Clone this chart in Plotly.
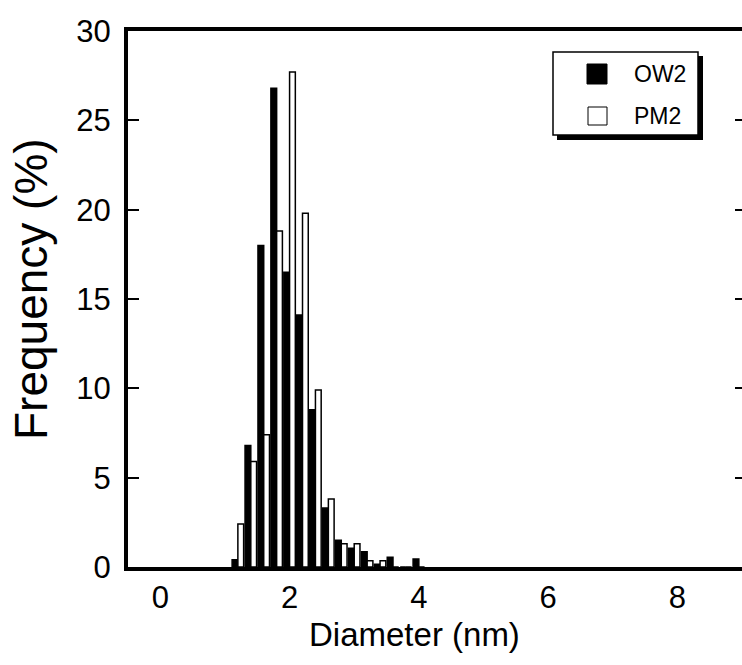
import plotly.graph_objects as go

# ---- data ----
diameter_nm = [1.2, 1.4, 1.6, 1.8, 2.0, 2.2, 2.4, 2.6, 2.8, 3.0, 3.2, 3.4, 3.6, 3.8, 4.0]
ow2_freq = [0.4, 6.8, 18.0, 26.8, 16.5, 14.1, 8.8, 3.3, 1.5, 1.05, 0.85, 0.15, 0.55, 0.0, 0.45]
pm2_freq = [2.4, 5.9, 7.4, 18.8, 27.7, 19.8, 9.9, 3.8, 1.3, 1.3, 0.35, 0.35, 0.0, 0.0, 0.0]
series_names = ["OW2", "PM2"]
x_ticks = [0, 2, 4, 6, 8]
y_ticks = [0, 5, 10, 15, 20, 25, 30]

FONT = "Liberation Sans, Arial, Helvetica, sans-serif"
W, H = 742, 665
L, R, T, B = 128, 0, 31, 98
PW, PH = W - L - R, H - T - B


def px_x(px):
    return (px - L) / PW


def px_y(py):
    return (H - B - py) / PH


fig = go.Figure()
fig.add_trace(go.Bar(x=diameter_nm, y=ow2_freq, name=series_names[0],
                     marker=dict(color="black", line=dict(color="black", width=1.5)),
                     showlegend=False))
fig.add_trace(go.Bar(x=diameter_nm, y=pm2_freq, name=series_names[1],
                     marker=dict(color="white", line=dict(color="black", width=1.5)),
                     showlegend=False))
# empty trace to carry the right-side tick axis
fig.add_trace(go.Scatter(x=[None], y=[None], yaxis="y2", showlegend=False,
                         hoverinfo="skip"))

fig.update_layout(
    width=W, height=H,
    margin=dict(l=L, r=R, t=T, b=B),
    paper_bgcolor="white", plot_bgcolor="white",
    barmode="group", bargap=0.11, bargroupgap=0.0,
    font=dict(family=FONT, color="black"),
    xaxis=dict(range=[-0.5, 9.0], tickvals=x_ticks, ticktext=[str(v) for v in x_ticks],
               ticks="", showgrid=False, zeroline=False,
               showline=True, linecolor="black", linewidth=4, mirror=True,
               tickfont=dict(size=31, family=FONT)),
    yaxis=dict(range=[0, 30], tickvals=y_ticks, ticktext=[str(v) for v in y_ticks],
               ticks="inside", ticklen=11, tickwidth=1.5, tickcolor="black",
               ticklabelstandoff=7,
               showgrid=False, zeroline=False,
               showline=True, linecolor="black", linewidth=4, mirror=False,
               tickfont=dict(size=31, family=FONT)),
    yaxis2=dict(range=[0, 30], tickvals=y_ticks[1:-1], overlaying="y", side="right",
                ticks="inside", ticklen=7, tickwidth=1.5, tickcolor="black",
                showticklabels=False, showgrid=False, zeroline=False, showline=False),
)

# axis titles
fig.add_annotation(text="Diameter (nm)", xref="paper", yref="paper",
                   x=px_x(414), y=px_y(634), xanchor="center", yanchor="middle",
                   showarrow=False, font=dict(size=33, family=FONT))
fig.add_annotation(text="Frequency (%)", xref="paper", yref="paper",
                   x=px_x(31), y=px_y(289), xanchor="center", yanchor="middle",
                   textangle=-90, showarrow=False, font=dict(size=46, family=FONT))

# legend box with drop shadow
fig.add_shape(type="rect", xref="paper", yref="paper",
              x0=px_x(557), x1=px_x(703), y0=px_y(56), y1=px_y(140),
              fillcolor="black", line=dict(width=0), layer="above")
fig.add_shape(type="rect", xref="paper", yref="paper",
              x0=px_x(553), x1=px_x(698), y0=px_y(52), y1=px_y(135),
              fillcolor="white", line=dict(color="black", width=1.5), layer="above")
fig.add_shape(type="rect", xref="paper", yref="paper",
              x0=px_x(587), x1=px_x(607), y0=px_y(64), y1=px_y(84),
              fillcolor="black", line=dict(color="black", width=1), layer="above")
fig.add_shape(type="rect", xref="paper", yref="paper",
              x0=px_x(588), x1=px_x(607), y0=px_y(107), y1=px_y(125),
              fillcolor="white", line=dict(color="black", width=1), layer="above")
fig.add_annotation(text=series_names[0], xref="paper", yref="paper",
                   x=px_x(632), y=px_y(74), xanchor="left", yanchor="middle",
                   showarrow=False, font=dict(size=23, family=FONT))
fig.add_annotation(text=series_names[1], xref="paper", yref="paper",
                   x=px_x(632), y=px_y(116), xanchor="left", yanchor="middle",
                   showarrow=False, font=dict(size=23, family=FONT))

fig.write_html("out.html", config={"displayModeBar": False},
               post_script="document.body.style.margin='0';document.body.style.overflow='hidden';")
